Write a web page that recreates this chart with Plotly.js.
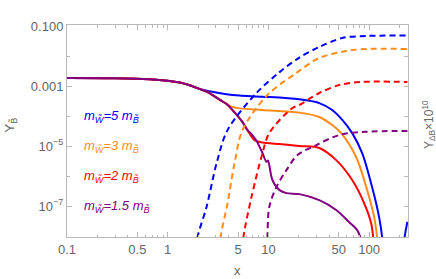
<!DOCTYPE html>
<html>
<head>
<meta charset="utf-8">
<script src="https://cdn.plot.ly/plotly-3.0.1.min.js"></script>
<style>html,body{margin:0;padding:0;background:#fff}#chart{width:436px;height:279px}</style>
</head>
<body>
<div id="chart"></div>
<script>
// Shared early part of Y_B~ (all solid curves)
const xCommon = [0.1, 0.3, 0.66, 1.0, 1.32, 1.65, 2.07];
const yCommon = [1.85e-3, 1.82e-3, 1.68e-3, 1.5e-3, 1.3e-3, 1.06e-3, 8.0e-4];

// Solid curves: Y_B~ (left axis)
const xBlueS = [2.43, 2.79, 3.84, 5.16, 8.73, 20.3, 32, 43, 54.1, 67.9, 85.3, 107, 125.6, 134.6, 140, 200, 225, 240];
const yBlueS = [7.0e-4, 6.4e-4, 5.3e-4, 4.8e-4, 4.4e-4, 3.6e-4, 2.7e-4, 1.58e-4, 7.4e-5, 2.7e-5, 5.85e-6, 4.3e-7, 4.3e-8, 9.3e-9, 2e-9, 1e-10, 9e-9, 3e-8];

const xOrangeS = [2.43, 2.79, 3.27, 3.84, 4.3, 5.16, 8.73, 20.3, 32, 43, 52.8, 74.3, 95.6, 112.2, 120, 125];
const yOrangeS = [6.5e-4, 5.0e-4, 3.6e-4, 2.6e-4, 2.05e-4, 1.8e-4, 1.58e-4, 1.3e-4, 9.3e-5, 5.0e-5, 2.7e-5, 4.3e-6, 3.4e-7, 4.3e-8, 9.3e-9, 2e-9];

const xRedS = [2.43, 2.79, 3.27, 3.84, 4.4, 5.53, 6.19, 7.27, 9.55, 12.9, 20.3, 32, 47.1, 67.9, 89.2, 104.7, 109.6, 112];
const yRedS = [6.5e-4, 5.0e-4, 3.5e-4, 2.5e-4, 1.58e-4, 6.3e-5, 3.4e-5, 1.58e-5, 1.26e-5, 1.17e-5, 1.0e-5, 8.6e-6, 3.4e-6, 7.4e-7, 1.26e-7, 2.7e-8, 9.3e-9, 2e-9];

const xPurpleS = [2.43, 2.79, 3.27, 3.84, 4.4, 5.53, 6.19, 6.79, 7.61, 8.73, 9.55, 9.9, 10.2, 10.96, 12.9, 15.1, 20.3, 32, 47.1, 63.4, 76.1, 81.5, 84];
const yPurpleS = [6.5e-4, 5.0e-4, 3.5e-4, 2.5e-4, 1.58e-4, 6.3e-5, 3.4e-5, 2.5e-5, 1.5e-5, 5.85e-6, 3.0e-6, 3.3e-6, 2.33e-6, 7.4e-7, 3.4e-7, 2.7e-7, 2.5e-7, 1.58e-7, 7.4e-8, 2.9e-8, 1.58e-8, 9.3e-9, 5e-9];

// Dashed curves: Y_ΔB×10^10 (right axis)
const xBlueD = [1.95, 1.98, 2.43, 3.06, 3.93, 7.61, 12.9, 20.3, 32, 54.1, 93.4, 240];
const yBlueD = [4e-9, 9.3e-9, 9.3e-8, 2.7e-6, 3.4e-5, 5.85e-4, 2.9e-3, 8.9e-3, 0.02, 0.0398, 0.0464, 0.048];

const xOrangeD = [3.3, 3.35, 3.93, 4.61, 5.53, 9.78, 18.9, 32, 59.2, 93.4, 240];
const yOrangeD = [4e-9, 9.3e-9, 1.26e-7, 2.7e-6, 3.4e-5, 5.0e-4, 2.7e-3, 8.6e-3, 0.0147, 0.0171, 0.0171];

const xRedD = [5.6, 5.65, 6.79, 8.53, 10.2, 17.3, 20.3, 32, 50.5, 79.6, 240];
const yRedD = [4e-9, 9.3e-9, 2.0e-7, 4.3e-6, 2.7e-5, 1.85e-4, 2.33e-4, 5.85e-4, 1.08e-3, 1.36e-3, 1.36e-3];

const xPurpleD = [9.75, 9.78, 10.2, 12.0, 15.1, 19.4, 29.9, 50.5, 93.4, 240];
const yPurpleD = [4e-9, 9.3e-9, 9.3e-8, 4.3e-7, 1.58e-6, 5.0e-6, 1.08e-5, 2.33e-5, 3.0e-5, 3.16e-5];

const legendLabels = ['m<sub>W\u0303</sub>=5 m<sub>B\u0303</sub>', 'm<sub>W\u0303</sub>=3 m<sub>B\u0303</sub>', 'm<sub>W\u0303</sub>=2 m<sub>B\u0303</sub>', 'm<sub>W\u0303</sub>=1.5 m<sub>B\u0303</sub>'];
const legendY = [1e-4, 1e-5, 1e-6, 1e-7];

const xTickVals = [0.1, 0.5, 1, 5, 10, 50, 100];
const xTickText = ['0.1', '0.5', '1', '5', '10', '50', '100'];
const xMinorVals = [0.2, 0.3, 0.4, 0.6, 0.7, 0.8, 0.9, 2, 3, 4, 6, 7, 8, 9, 20, 30, 40, 60, 70, 80, 90, 200];
const yTickVals = [0.1, 0.001, 1e-5, 1e-7];
const yTickText = ['0.100', '0.001', '10<sup>\u22125</sup>', '10<sup>\u22127</sup>'];
const yMinorVals = [0.01, 1e-4, 1e-6, 1e-8];

const cBlue = '#0000ff', cOrange = '#ff8c1a', cRed = '#ff0000', cPurple = '#800080';
const frame = '#b8b8b8', txt = '#666666';

function solid(xs, ys, c) {
  return {x: xCommon.concat(xs), y: yCommon.concat(ys), type: 'scatter', mode: 'lines',
    line: {color: c, width: 2, shape: 'spline', smoothing: 0.9}, yaxis: 'y', showlegend: false, hoverinfo: 'skip'};
}
function dashed(xs, ys, c) {
  return {x: xs, y: ys, type: 'scatter', mode: 'lines',
    line: {color: c, width: 2, dash: '6px,4px', shape: 'spline', smoothing: 0.9}, yaxis: 'y2', showlegend: false, hoverinfo: 'skip'};
}

const data = [
  dashed(xBlueD, yBlueD, cBlue),
  dashed(xOrangeD, yOrangeD, cOrange),
  dashed(xRedD, yRedD, cRed),
  dashed(xPurpleD, yPurpleD, cPurple),
  solid(xBlueS, yBlueS, cBlue),
  solid(xOrangeS, yOrangeS, cOrange),
  solid(xRedS, yRedS, cRed),
  solid(xPurpleS, yPurpleS, cPurple)
];

const yRange = [-8.03, -0.967];
const tickFont = {family: 'Liberation Sans, Arial, sans-serif', size: 13, color: txt};
const legendColors = [cBlue, cOrange, cRed, cPurple];

const annotations = legendLabels.map((t, i) => ({
  text: '<i>' + t + '</i>', x: Math.log10(0.14), y: Math.log10(legendY[i]), xref: 'x', yref: 'y',
  xanchor: 'left', yanchor: 'middle', showarrow: false,
  font: {family: 'Liberation Sans, Arial, sans-serif', size: 13, color: legendColors[i]}
}));
annotations.push({text: 'Y<sub>B\u0303</sub>', xref: 'paper', yref: 'paper', x: -0.165, y: 0.53,
  textangle: -90, showarrow: false, xanchor: 'center', yanchor: 'middle',
  font: {family: 'Liberation Sans, Arial, sans-serif', size: 13, color: txt}});
annotations.push({text: 'Y<sub>\u0394B</sub>\u00d710<sup>10</sup>', xref: 'paper', yref: 'paper', x: 1.06, y: 0.53,
  textangle: -90, showarrow: false, xanchor: 'center', yanchor: 'middle',
  font: {family: 'Liberation Sans, Arial, sans-serif', size: 12, color: txt}});
annotations.push({text: 'x', xref: 'paper', yref: 'paper', x: 0.5, y: -0.16,
  showarrow: false, xanchor: 'center', yanchor: 'middle',
  font: {family: 'Liberation Sans, Arial, sans-serif', size: 13, color: txt}});

const layout = {
  width: 436, height: 279,
  margin: {l: 67, r: 28, t: 25, b: 42},
  paper_bgcolor: '#ffffff', plot_bgcolor: '#ffffff',
  showlegend: false,
  xaxis: {type: 'log', range: [-1, 2.386], showgrid: false, zeroline: false,
    showline: true, linecolor: frame, linewidth: 1, mirror: 'ticks',
    ticks: 'inside', ticklen: 5, tickcolor: frame, tickwidth: 1,
    tickmode: 'array', tickvals: xTickVals, ticktext: xTickText, tickfont: tickFont,
    minor: {tickmode: 'array', tickvals: xMinorVals, ticks: 'inside', ticklen: 2.5, tickcolor: frame, showgrid: false}},
  yaxis: {type: 'log', range: yRange, showgrid: false, zeroline: false,
    showline: true, linecolor: frame, linewidth: 1,
    ticks: 'inside', ticklen: 5, tickcolor: frame, tickwidth: 1,
    tickmode: 'array', tickvals: yTickVals, ticktext: yTickText, tickfont: tickFont,
    minor: {tickmode: 'array', tickvals: yMinorVals, ticks: 'inside', ticklen: 3, tickcolor: frame, showgrid: false}},
  yaxis2: {type: 'log', range: yRange, overlaying: 'y', side: 'right', showgrid: false, zeroline: false,
    showline: true, linecolor: frame, linewidth: 1,
    ticks: 'inside', ticklen: 4, tickcolor: frame, showticklabels: false,
    tickmode: 'array', tickvals: [0.1, 0.01, 0.001, 1e-4, 1e-5, 1e-6, 1e-7, 1e-8]},
  annotations: annotations
};

Plotly.newPlot('chart', data, layout, {staticPlot: true, displayModeBar: false});
</script>
</body>
</html>
